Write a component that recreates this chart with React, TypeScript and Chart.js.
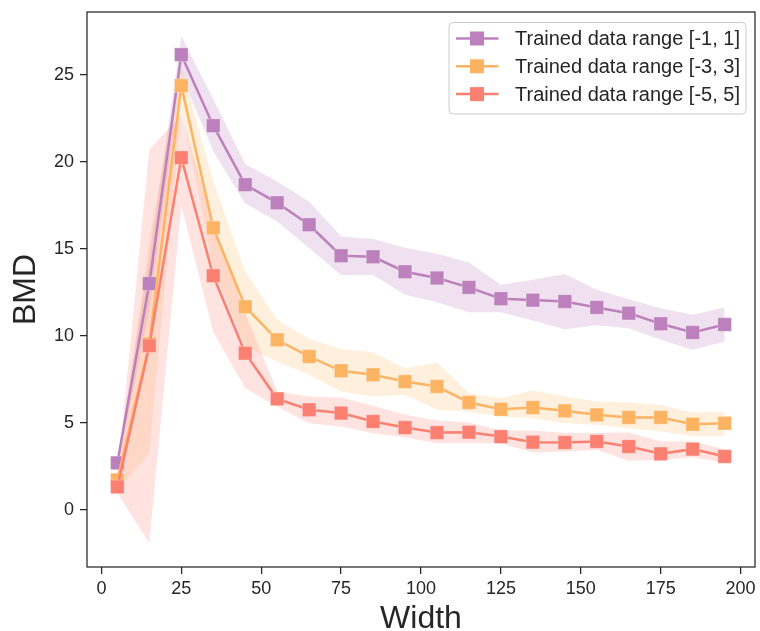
import React, { useEffect, useRef } from 'react';
import { Chart, registerables } from 'chart.js';

Chart.register(...registerables);

// ---------- data ----------
const WIDTHS = [5, 15, 25, 35, 45, 55, 65, 75, 85, 95, 105, 115, 125, 135, 145, 155, 165, 175, 185, 195];
const X_TICKS = [0, 25, 50, 75, 100, 125, 150, 175, 200];
const Y_TICKS = [0, 5, 10, 15, 20, 25];
const SERIES_LABELS = ['Trained data range [-1, 1]', 'Trained data range [-3, 3]', 'Trained data range [-5, 5]'];
const SERIES_COLORS = ['#BC80BD', '#FDB462', '#FB8072'];
const BAND_COLORS = ['rgba(188,128,189,0.24)', 'rgba(253,180,98,0.22)', 'rgba(251,128,114,0.22)'];

const R1_MEAN = [2.7, 13.0, 26.15, 22.07, 18.68, 17.64, 16.38, 14.6, 14.54, 13.68, 13.32, 12.78, 12.13, 12.05, 11.97, 11.63, 11.3, 10.69, 10.19, 10.65];
const R1_UPPER = [3.0, 14.5, 27.2, 23.6, 19.87, 18.87, 17.72, 15.71, 15.56, 15.06, 14.71, 14.21, 12.93, 13.22, 13.55, 12.64, 12.1, 11.59, 11.21, 11.63];
const R1_LOWER = [2.4, 11.5, 25.0, 20.6, 17.6, 16.57, 15.04, 13.5, 13.5, 12.36, 11.93, 11.36, 11.36, 10.88, 10.38, 10.6, 10.44, 9.77, 9.2, 9.67];

const R3_MEAN = [1.72, 9.55, 24.37, 16.2, 11.67, 9.77, 8.81, 7.99, 7.76, 7.37, 7.09, 6.17, 5.78, 5.88, 5.69, 5.46, 5.31, 5.31, 4.92, 4.98];
const R3_UPPER = [2.1, 15.5, 25.5, 18.87, 13.7, 10.92, 9.81, 9.24, 9.04, 8.14, 8.47, 6.7, 6.42, 6.86, 6.51, 6.23, 6.17, 6.03, 5.59, 5.65];
const R3_LOWER = [1.1, 3.28, 23.0, 14.0, 9.39, 8.52, 7.76, 6.8, 6.51, 6.61, 5.75, 5.65, 5.36, 5.27, 4.98, 4.89, 4.69, 4.5, 4.25, 4.25];

const R5_MEAN = [1.32, 9.43, 20.23, 13.45, 9.0, 6.38, 5.75, 5.56, 5.08, 4.73, 4.44, 4.46, 4.21, 3.89, 3.87, 3.93, 3.64, 3.22, 3.49, 3.07];
const R5_UPPER = [1.9, 20.7, 22.7, 16.5, 11.3, 6.8, 6.51, 6.46, 5.98, 5.46, 5.13, 5.02, 4.56, 4.56, 4.41, 4.41, 4.44, 3.93, 3.93, 3.49];
const R5_LOWER = [0.97, -1.9, 17.5, 10.2, 7.0, 5.94, 4.98, 4.79, 4.4, 4.18, 3.83, 3.83, 3.83, 3.29, 3.35, 3.45, 2.83, 2.87, 3.03, 2.72];

const X_LABEL = 'Width';
const Y_LABEL = 'BMD';

// ---------- styling ----------
const FONT = "'Liberation Sans', Arial, sans-serif";
const INK = '#262626';

const toPts = (ys: number[]) => ys.map((y, i) => ({ x: WIDTHS[i], y }));

const framePlugin = {
  id: 'frame',
  afterDatasetsDraw(chart: any) {
    const { ctx, chartArea: a } = chart;
    ctx.save();
    ctx.strokeStyle = INK;
    ctx.lineWidth = 1.25;
    ctx.strokeRect(a.left, a.top, a.right - a.left, a.bottom - a.top);
    ctx.restore();
  },
};

const legendPlugin = {
  id: 'insideLegend',
  afterDraw(chart: any) {
    const { ctx, chartArea: a } = chart;
    const w = 297;
    const h = 91.5;
    const x0 = a.right - 9 - w;
    const y0 = a.top + 10.5;
    ctx.save();
    ctx.beginPath();
    if ((ctx as any).roundRect) (ctx as any).roundRect(x0, y0, w, h, 4);
    else ctx.rect(x0, y0, w, h);
    ctx.fillStyle = 'rgba(255,255,255,0.8)';
    ctx.fill();
    ctx.strokeStyle = '#cccccc';
    ctx.lineWidth = 1;
    ctx.stroke();
    SERIES_LABELS.forEach((label, i) => {
      const y = y0 + 16 + i * 27.8;
      ctx.strokeStyle = SERIES_COLORS[i];
      ctx.lineWidth = 2.5;
      ctx.beginPath();
      ctx.moveTo(x0 + 7, y);
      ctx.lineTo(x0 + 49.5, y);
      ctx.stroke();
      ctx.fillStyle = SERIES_COLORS[i];
      ctx.fillRect(x0 + 28 - 7, y - 7, 14, 14);
      ctx.fillStyle = INK;
      ctx.font = `20px ${FONT}`;
      ctx.textBaseline = 'middle';
      ctx.textAlign = 'left';
      ctx.fillText(label, x0 + 66, y + 1);
    });
    ctx.restore();
  },
};

export default function App() {
  const ref = useRef<HTMLCanvasElement>(null);

  useEffect(() => {
    if (!ref.current) return;
    const means = [R1_MEAN, R3_MEAN, R5_MEAN];
    const uppers = [R1_UPPER, R3_UPPER, R5_UPPER];
    const lowers = [R1_LOWER, R3_LOWER, R5_LOWER];

    const datasets: any[] = [];
    for (let i = 0; i < 3; i++) {
      datasets.push({
        label: `upper${i}`,
        data: toPts(uppers[i]),
        borderColor: 'transparent',
        borderWidth: 0,
        pointRadius: 0,
        fill: false,
        order: 20 - i * 2,
      });
      datasets.push({
        label: `lower${i}`,
        data: toPts(lowers[i]),
        borderColor: 'transparent',
        borderWidth: 0,
        pointRadius: 0,
        backgroundColor: BAND_COLORS[i],
        fill: '-1',
        order: 19 - i * 2,
      });
    }
    for (let i = 0; i < 3; i++) {
      datasets.push({
        label: SERIES_LABELS[i],
        data: toPts(means[i]),
        borderColor: SERIES_COLORS[i],
        backgroundColor: SERIES_COLORS[i],
        borderWidth: 2.5,
        pointStyle: 'rect',
        pointRadius: 9.6,
        pointBorderWidth: 0.8,
        pointBorderColor: 'rgba(255,255,255,0.35)',
        pointBackgroundColor: SERIES_COLORS[i],
        fill: false,
        tension: 0,
        order: 2 - i,
      });
    }

    const chart = new Chart(ref.current, {
      type: 'line',
      data: { datasets },
      plugins: [framePlugin, legendPlugin],
      options: {
        responsive: false,
        animation: false,
        devicePixelRatio: 1,
        layout: { autoPadding: false, padding: { left: 0, right: 5, top: 12, bottom: 0 } },
        plugins: {
          legend: { display: false },
          tooltip: { enabled: false },
        },
        scales: {
          x: {
            type: 'linear',
            min: -4.5,
            max: 204.5,
            afterBuildTicks: (s: any) => {
              s.ticks = X_TICKS.map((v) => ({ value: v }));
            },
            afterFit: (s: any) => {
              s.height = 64;
              s.paddingLeft = 0;
              s.paddingRight = 0;
            },
            grid: {
              display: true,
              drawOnChartArea: false,
              drawTicks: true,
              tickLength: 7,
              color: INK,
              lineWidth: 1.25,
            },
            border: { display: false },
            ticks: {
              color: INK,
              font: { family: FONT, size: 18 },
              padding: 4,
              maxRotation: 0,
              callback: (v: any) => String(v),
            },
            title: {
              display: true,
              text: X_LABEL,
              color: INK,
              font: { family: FONT, size: 32, lineHeight: 0.72 },
              padding: { top: 0, bottom: 0 },
            },
          },
          y: {
            type: 'linear',
            min: -3.28,
            max: 28.6,
            afterBuildTicks: (s: any) => {
              s.ticks = Y_TICKS.map((v) => ({ value: v }));
            },
            afterFit: (s: any) => {
              s.width = 87;
              s.paddingTop = 0;
              s.paddingBottom = 0;
            },
            grid: {
              display: true,
              drawOnChartArea: false,
              drawTicks: true,
              tickLength: 7,
              color: INK,
              lineWidth: 1.25,
            },
            border: { display: false },
            ticks: {
              color: INK,
              font: { family: FONT, size: 18 },
              padding: 6,
              callback: (v: any) => String(v),
            },
            title: {
              display: true,
              text: Y_LABEL,
              color: INK,
              font: { family: FONT, size: 32, lineHeight: 1.2 },
              padding: { top: 7, bottom: 0 },
            },
          },
        },
      },
    } as any);

    return () => chart.destroy();
  }, []);

  return (
    <div style={{ position: 'absolute', left: 0, top: 0, width: 760, height: 631, background: '#fff' }}>
      <canvas ref={ref} width={760} height={631} style={{ display: 'block' }} />
    </div>
  );
}
